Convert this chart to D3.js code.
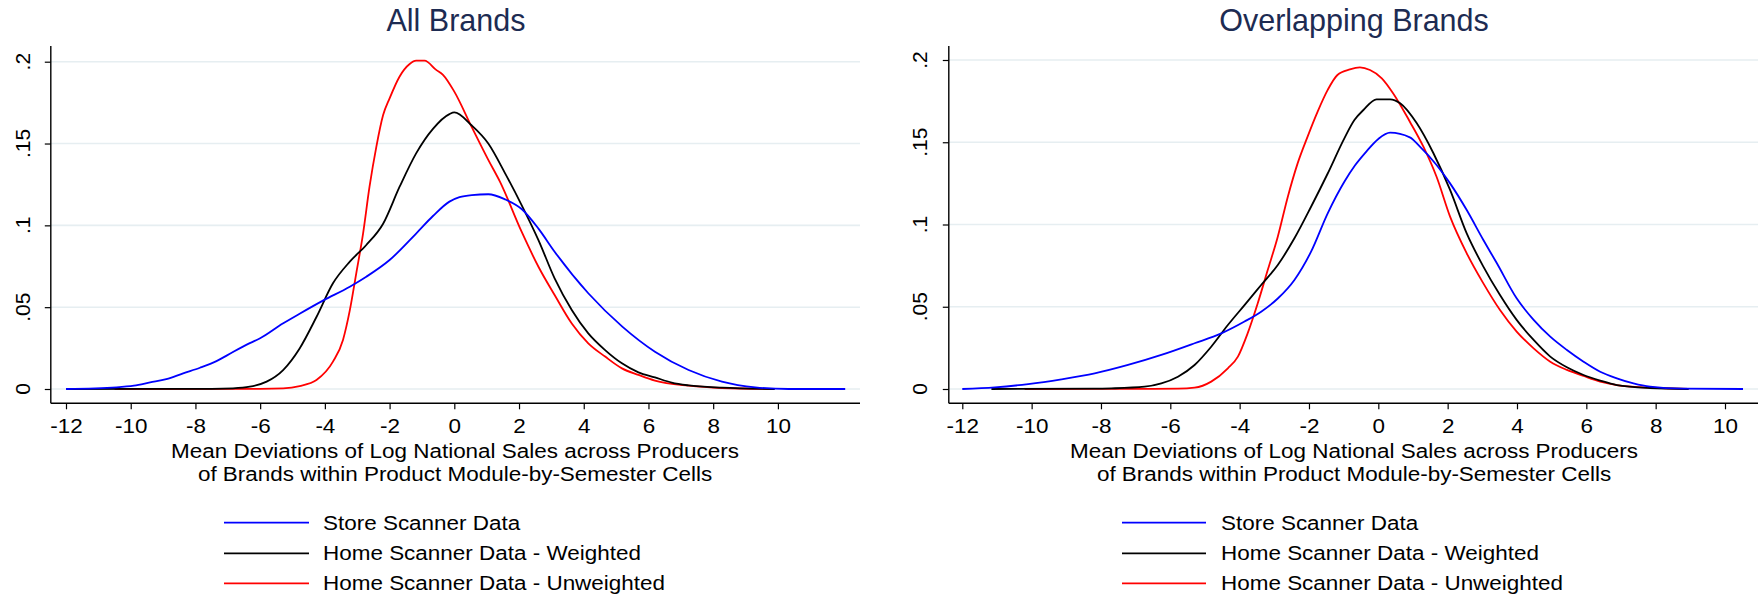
<!DOCTYPE html>
<html>
<head>
<meta charset="utf-8">
<script src="https://cdn.jsdelivr.net/npm/d3@7"></script>
<style>
  html, body { margin: 0; padding: 0; background: #fff; }
  svg { display: block; }
  text { font-family: "Liberation Sans", Arial, sans-serif; }
</style>
</head>
<body>
<svg id="chart" width="1758" height="602"></svg>
<script>
// ---------- data ----------
const panelTitles = ["All Brands", "Overlapping Brands"];
const seriesNames = ["Store Scanner Data", "Home Scanner Data - Weighted", "Home Scanner Data - Unweighted"];
const seriesColors = ["#0000ff", "#000000", "#ff0000"];
const xTicks = [-12, -10, -8, -6, -4, -2, 0, 2, 4, 6, 8, 10];
const yTicks = [0, 0.05, 0.1, 0.15, 0.2];
const yTickLabels = ["0", ".05", ".1", ".15", ".2"];
const xTitleLines = ["Mean Deviations of Log National Sales across Producers", "of Brands within Product Module-by-Semester Cells"];

// All Brands
const allStore = [[-12,0],[-10.44,0.001],[-9.9,0.002],[-9.4,0.004],[-8.9,0.006],[-8.38,0.0096],[-7.86,0.013],[-7.35,0.017],[-6.84,0.0226],[-6.32,0.028],[-6.0,0.031],[-5.3,0.040],[-4.78,0.046],[-4.06,0.054],[-3.23,0.0625],[-2.72,0.0686],[-2.0,0.0788],[-1.18,0.095],[-0.66,0.1057],[-0.15,0.1145],[0.16,0.1172],[0.54,0.1185],[1.05,0.119],[1.57,0.1159],[2.08,0.110],[2.6,0.098],[3.1,0.0839],[4.14,0.0585],[5.2,0.038],[6.2,0.0228],[7.24,0.0116],[8.27,0.0045],[9.3,0.001],[10.33,0],[12.08,0]];
const allWeighted = [[-12,0],[-7.5,0.0001],[-6.84,0.0004],[-6.32,0.0014],[-5.8,0.0045],[-5.29,0.0116],[-4.78,0.0248],[-4.26,0.044],[-3.75,0.0646],[-3.23,0.0778],[-2.72,0.088],[-2.2,0.101],[-1.69,0.1236],[-1.18,0.144],[-0.66,0.159],[-0.15,0.168],[0,0.169],[0.54,0.161],[1.05,0.150],[1.57,0.1318],[2.08,0.1124],[2.6,0.091],[3.1,0.0676],[3.63,0.0483],[4.14,0.034],[4.66,0.0238],[5.18,0.0157],[5.69,0.0102],[6.2,0.0071],[6.72,0.0039],[7.24,0.0022],[8.27,0.0008],[9.9,0]];
const allUnweighted = [[-10.5,0],[-6,0.0001],[-5.29,0.0004],[-4.78,0.0018],[-4.26,0.0055],[-3.75,0.0167],[-3.44,0.030],[-3.23,0.048],[-3.03,0.0707],[-2.82,0.095],[-2.62,0.1236],[-2.41,0.148],[-2.2,0.1674],[-2.0,0.1776],[-1.69,0.191],[-1.38,0.1986],[-1.18,0.2006],[-0.92,0.2006],[-0.56,0.195],[-0.35,0.192],[0,0.1817],[0.54,0.160],[1.05,0.140],[1.41,0.1267],[2.08,0.0961],[2.6,0.0747],[3.1,0.0574],[3.63,0.040],[4.14,0.0279],[4.66,0.0198],[5.18,0.0126],[5.69,0.0086],[6.2,0.0051],[7.24,0.002],[8.27,0.0006],[9.9,0]];

// Overlapping Brands
const overStore = [[-12,0],[-11.06,0.001],[-10.1,0.003],[-9.14,0.0059],[-8.18,0.0095],[-7.22,0.0146],[-6.26,0.0207],[-5.3,0.0278],[-4.53,0.0338],[-3.86,0.041],[-3.38,0.047],[-2.9,0.055],[-2.42,0.0663],[-1.94,0.0835],[-1.46,0.1068],[-0.98,0.126],[-0.67,0.136],[-0.34,0.1445],[0,0.152],[0.34,0.1558],[0.91,0.153],[1.2,0.1473],[1.68,0.1362],[2.07,0.125],[2.55,0.1088],[3.03,0.0906],[3.42,0.0764],[3.99,0.0551],[4.48,0.042],[4.96,0.0318],[5.44,0.0237],[5.92,0.0166],[6.4,0.0105],[6.88,0.0065],[7.36,0.0034],[7.84,0.0014],[8.8,0.0002],[10.52,0]];
const overWeighted = [[-11.16,0],[-8.2,0.0002],[-7.7,0.0004],[-6.74,0.0014],[-6.26,0.0034],[-5.78,0.0075],[-5.3,0.0146],[-4.82,0.0257],[-4.34,0.0389],[-3.86,0.051],[-3.38,0.0632],[-2.9,0.0754],[-2.42,0.0916],[-1.94,0.1108],[-1.46,0.131],[-0.98,0.1524],[-0.69,0.1635],[-0.43,0.1696],[-0.05,0.1761],[0.34,0.1761],[0.63,0.1737],[1.11,0.1615],[1.59,0.1433],[2.07,0.121],[2.55,0.0946],[3.03,0.0744],[3.51,0.0571],[3.99,0.042],[4.48,0.0298],[4.96,0.0197],[5.44,0.0132],[5.92,0.0085],[6.4,0.0051],[6.88,0.0024],[7.84,0.0006],[8.95,0]];
const overUnweighted = [[-10.2,0],[-6.5,0.0001],[-5.78,0.0002],[-5.3,0.0008],[-4.82,0.0045],[-4.34,0.0126],[-4.05,0.0197],[-3.77,0.0338],[-3.48,0.052],[-3.19,0.0723],[-2.9,0.0926],[-2.61,0.1169],[-2.33,0.137],[-2.04,0.1534],[-1.75,0.1686],[-1.46,0.1818],[-1.18,0.1909],[-0.82,0.1943],[-0.53,0.1955],[-0.24,0.1939],[0.1,0.1889],[0.43,0.1797],[0.91,0.1625],[1.3,0.1473],[1.68,0.129],[2.07,0.1048],[2.55,0.0825],[3.03,0.0642],[3.51,0.048],[3.99,0.0349],[4.48,0.0247],[4.96,0.0166],[5.44,0.0116],[5.92,0.0079],[6.4,0.0045],[6.88,0.0024],[7.84,0.0008],[8.95,0]];

const panelSeries = [
  [allStore, allWeighted, allUnweighted],
  [overStore, overWeighted, overUnweighted]
];

// ---------- layout ----------
const layouts = [
  { x0px: 66, x10px: 777.9, y0px: 389, y2px: 61.7, axisX: 50.8, right: 860, axisBottom: 403.3, axisTop: 46,
    titleX: 456, ytlX: 22.5, legLine: [224, 309], legText: 323, xTitleX: 455 },
  { x0px: 962.3, x10px: 1725, y0px: 389, y2px: 60, axisX: 948.8, right: 1762, axisBottom: 403.3, axisTop: 46,
    titleX: 1354, ytlX: 920, legLine: [1122, 1206], legText: 1221, xTitleX: 1354 }
];
const legendY = [522.7, 553.3, 583.3];
const titleColor = "#1d2b52";
const stretch = 1.07;   // horizontal stretch of text seen in the reference

const svg = d3.select("#chart");

function stretchedText(g, x, y, size, anchor, str, fill) {
  return g.append("text")
    .attr("transform", `translate(${x},${y}) scale(${stretch},1)`)
    .attr("text-anchor", anchor).attr("font-size", size).attr("fill", fill || "#000")
    .text(str);
}

layouts.forEach((L, p) => {
  const x = d3.scaleLinear().domain([-12, 10]).range([L.x0px, L.x10px]);
  const y = d3.scaleLinear().domain([0, 0.2]).range([L.y0px, L.y2px]);
  const g = svg.append("g");

  // gridlines
  g.selectAll("line.grid").data(yTicks).enter().append("line")
    .attr("class", "grid")
    .attr("x1", L.axisX).attr("x2", L.right)
    .attr("y1", d => y(d)).attr("y2", d => y(d))
    .attr("stroke", "#e6eef1").attr("stroke-width", 1.6);

  // y axis
  const yAxis = d3.axisLeft(y).tickValues(yTicks).tickSize(6).tickFormat((d, i) => yTickLabels[i]);
  const ya = g.append("g").attr("transform", `translate(${L.axisX},0)`).call(yAxis);
  ya.select(".domain").remove();
  ya.selectAll(".tick line").attr("stroke", "#000").attr("stroke-width", 1.2);
  ya.selectAll(".tick text").remove();
  g.append("line").attr("x1", L.axisX).attr("x2", L.axisX).attr("y1", L.axisTop).attr("y2", L.axisBottom)
    .attr("stroke", "#000").attr("stroke-width", 1.4);
  g.selectAll("text.ytl").data(yTicks).enter().append("text")
    .attr("class", "ytl")
    .attr("transform", d => `translate(${L.ytlX},${y(d)}) rotate(-90)`)
    .attr("text-anchor", "middle").attr("dy", "0.35em")
    .attr("font-size", 21).attr("fill", "#000")
    .text((d, i) => yTickLabels[i]);

  // x axis
  const xAxis = d3.axisBottom(x).tickValues(xTicks).tickSize(6).tickFormat(d3.format("d"));
  const xa = g.append("g").attr("transform", `translate(0,${L.axisBottom})`).call(xAxis);
  xa.select(".domain").remove();
  xa.attr("font-family", null).attr("font-size", null);
  xa.selectAll(".tick line").attr("stroke", "#000").attr("stroke-width", 1.2);
  xa.selectAll(".tick text").attr("font-size", 21).attr("fill", "#000").attr("y", 0).attr("dy", null)
    .attr("transform", `translate(0,30) scale(${stretch},1)`)
    .text(d => (d < 0 ? "-" + Math.abs(d) : String(d)));
  g.append("line").attr("x1", L.axisX).attr("x2", L.right).attr("y1", L.axisBottom).attr("y2", L.axisBottom)
    .attr("stroke", "#000").attr("stroke-width", 1.4);

  // curves (draw unweighted, weighted, store so store is on top)
  const line = d3.line().x(d => x(d[0])).y(d => y(d[1])).curve(d3.curveMonotoneX);
  [2, 1, 0].forEach(s => {
    g.append("path").datum(panelSeries[p][s])
      .attr("d", line).attr("fill", "none")
      .attr("stroke", seriesColors[s]).attr("stroke-width", 1.8)
      .attr("stroke-linejoin", "round");
  });

  // title
  g.append("text").attr("x", L.titleX).attr("y", 31).attr("text-anchor", "middle")
    .attr("font-size", 30.5).attr("fill", titleColor).text(panelTitles[p]);

  // x title
  xTitleLines.forEach((t, i) => {
    stretchedText(g, L.xTitleX, 458 + i * 23.2, 21, "middle", t);
  });

  // legend
  seriesNames.forEach((n, i) => {
    g.append("line").attr("x1", L.legLine[0]).attr("x2", L.legLine[1])
      .attr("y1", legendY[i]).attr("y2", legendY[i])
      .attr("stroke", seriesColors[i]).attr("stroke-width", 1.8);
    stretchedText(g, L.legText, legendY[i] + 6.8, 21, "start", n);
  });
});
</script>
</body>
</html>
